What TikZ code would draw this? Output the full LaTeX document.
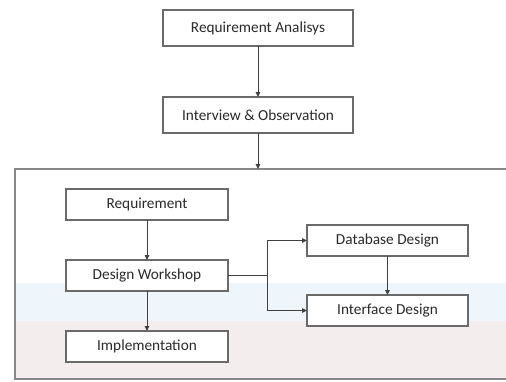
\documentclass[tikz,border=0pt]{standalone}
\usepackage{fontspec}
\setmainfont{Carlito}
\usetikzlibrary{arrows.meta}
\definecolor{boxline}{HTML}{6A6A6A}
\definecolor{txt}{HTML}{2A2A2A}
\definecolor{bandblue}{HTML}{EEF6FB}
\definecolor{bandpink}{HTML}{F3EEED}
\tikzset{
  procbox/.style={draw=boxline, line width=1.8pt, fill=white, text=txt, font=\fontsize{15.3}{17}\selectfont, inner sep=0pt, outer sep=0pt, anchor=north west},
  conn/.style={draw=black!75, line width=1pt, -{Triangle[length=5pt,width=4.5pt]}},
  plain/.style={draw=black!75, line width=1pt}
}
\begin{document}
\begin{tikzpicture}[x=1pt,y=-1pt]
\useasboundingbox (0,0) rectangle (506,381);
% container bands
\fill[bandblue] (15,283) rectangle (506,321);
\fill[bandpink] (15,321) rectangle (506,379);
\draw[boxline!80, line width=1.2pt] (506,169) -- (15,169) -- (15,379) -- (506,379);
% top boxes
\node[procbox, minimum width=190pt, minimum height=36pt] (ra) at (163,10) {Requirement Analisys};
\node[procbox, minimum width=190pt, minimum height=36pt] (io) at (163,97) {Interview \& Observation};
\coordinate (ctop) at (258,169);
% inner boxes
\node[procbox, minimum width=162pt, minimum height=31pt] (req) at (66,189) {Requirement};
\node[procbox, minimum width=162pt, minimum height=31pt] (dw) at (66,260) {Design Workshop};
\node[procbox, minimum width=162pt, minimum height=31pt] (imp) at (66,331) {Implementation};
\node[procbox, minimum width=161pt, minimum height=31pt] (db) at (307,225) {Database Design};
\node[procbox, minimum width=161pt, minimum height=31pt] (ifd) at (307,295) {Interface Design};
% connectors
\draw[conn] (ra.south) -- (io.north);
\draw[conn] (io.south) -- (ctop);
\draw[conn] (req.south) -- (dw.north);
\draw[conn] (dw.south) -- (imp.north);
\draw[plain] (dw.east) -- ++(39,0) coordinate (jn);
\draw[conn] (jn) |- (db.west);
\draw[conn] (jn) |- (ifd.west);
\draw[conn] (db.south) -- (ifd.north);
\end{tikzpicture}
\end{document}
